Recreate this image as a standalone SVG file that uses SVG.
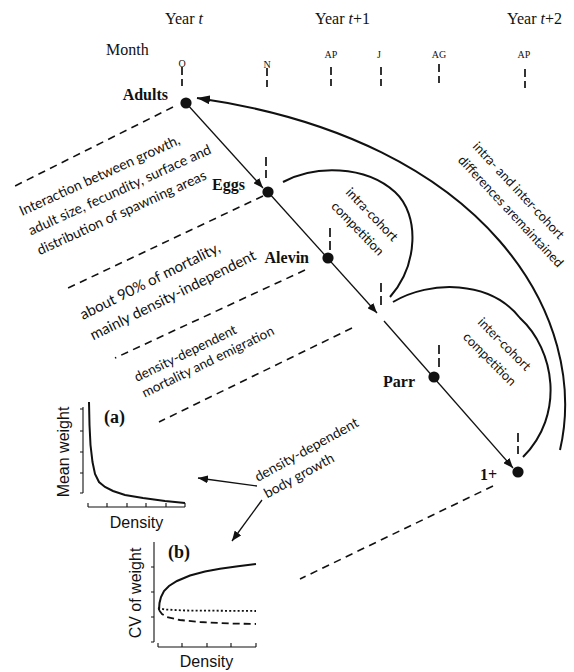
<svg xmlns="http://www.w3.org/2000/svg" width="574" height="672" viewBox="0 0 574 672">
<style>
.ser{font-family:"Liberation Serif","Times New Roman",serif;fill:#111}
.hdr{font-size:16px}
.mon{font-size:10px;text-anchor:middle}
.node{font-size:16px;font-weight:bold;text-anchor:end}
.cal{font-family:Lato,"Open Sans",sans-serif;fill:#111}
.ari{font-family:"Liberation Sans",Arial,sans-serif;fill:#111;font-size:16px}
.tick{stroke:#111;stroke-width:1.7;stroke-dasharray:8 4;fill:none}
.sep{stroke:#111;stroke-width:1.6;stroke-dasharray:7.5 5.5;fill:none}
.main{stroke:#111;stroke-width:1.3;fill:none}
.arc{stroke:#111;stroke-width:2;fill:none}
.ax{stroke:#111;stroke-width:1.1;fill:none}
.crv{stroke:#111;stroke-width:2;fill:none}
</style>
<defs>
<marker id="ah" viewBox="0 0 10 8" refX="10" refY="4" markerWidth="10" markerHeight="8" markerUnits="userSpaceOnUse" orient="auto"><path d="M0,0 L10,4 L0,8 z" fill="#111"/></marker>
<marker id="ahb" viewBox="0 0 13 9" refX="13" refY="4.5" markerWidth="13" markerHeight="9" markerUnits="userSpaceOnUse" orient="auto"><path d="M0,0 L13,4.5 L0,9 z" fill="#111"/></marker>
</defs>

<g id="header">
<text class="ser hdr" x="165" y="24">Year <tspan font-style="italic">t</tspan></text>
<text class="ser hdr" x="315" y="24">Year <tspan font-style="italic">t</tspan>+1</text>
<text class="ser hdr" x="507" y="24">Year <tspan font-style="italic">t</tspan>+2</text>
<text class="ser hdr" x="106" y="55">Month</text>
<text class="ser mon" x="182" y="67">O</text>
<text class="ser mon" x="267" y="68">N</text>
<text class="ser mon" x="331" y="58">AP</text>
<text class="ser mon" x="379" y="58">J</text>
<text class="ser mon" x="439" y="58">AG</text>
<text class="ser mon" x="524" y="58">AP</text>
</g>

<g id="connectors">
<!-- month ticks -->
<line class="tick" x1="182" y1="67" x2="182" y2="86"/>
<line class="tick" x1="267" y1="68" x2="267" y2="87"/>
<line class="tick" x1="331" y1="67" x2="331" y2="86"/>
<line class="tick" x1="381" y1="67" x2="381" y2="86"/>
<line class="tick" x1="439" y1="64" x2="439" y2="83"/>
<line class="tick" x1="525" y1="69" x2="525" y2="88"/>
<!-- node ticks -->
<line class="tick" x1="266" y1="157" x2="266" y2="178" style="stroke-dasharray:9 4"/>
<line class="tick" x1="330" y1="228" x2="330" y2="250" style="stroke-dasharray:9 4"/>
<line class="tick" x1="381" y1="283" x2="381" y2="305" style="stroke-dasharray:9 4"/>
<line class="tick" x1="439" y1="345" x2="439" y2="367" style="stroke-dasharray:9 4"/>
<line class="tick" x1="518" y1="433" x2="518" y2="454" style="stroke-dasharray:9 4"/>
<!-- separators -->
<line class="sep" x1="173" y1="107" x2="13" y2="187"/>
<line class="sep" x1="263" y1="196" x2="68" y2="288"/>
<line class="sep" x1="305" y1="270" x2="115" y2="358"/>
<line class="sep" x1="352" y1="328" x2="159" y2="422"/>
<line class="sep" x1="493" y1="486" x2="300" y2="579"/>
<!-- main life-cycle line -->
<line class="main" x1="186" y1="103" x2="263" y2="188" marker-end="url(#ah)"/>
<line class="main" x1="268" y1="192" x2="377" y2="313" marker-end="url(#ah)"/>
<line class="main" x1="384" y1="321" x2="513" y2="468" marker-end="url(#ah)"/>
<!-- arcs -->
<path class="arc" d="M283,182 C315,165 365,165 395,192 C420,215 418,265 390,297"/>
<path class="arc" d="M393,302 C430,280 490,280 520,318 C555,350 565,415 523,457"/>
<path class="arc" d="M560,450 C590,320 490,140 197,98" marker-end="url(#ahb)"/>
<!-- density-dependent body growth arrows -->
<line class="main" x1="257" y1="486" x2="198" y2="478" marker-end="url(#ah)"/>
<line class="main" x1="262" y1="500" x2="232" y2="541" marker-end="url(#ah)"/>
</g>

<g id="node-adults"><circle cx="186" cy="103" r="5.6" fill="#111"/><text class="ser node" x="168" y="100">Adults</text></g>
<g id="node-eggs"><circle cx="268" cy="192" r="5.6" fill="#111"/><text class="ser node" x="245" y="190">Eggs</text></g>
<g id="node-alevin"><circle cx="328" cy="258" r="5.6" fill="#111"/><text class="ser node" x="309" y="263">Alevin</text></g>
<g id="node-parr"><circle cx="434" cy="377" r="5.6" fill="#111"/><text class="ser node" x="415" y="387">Parr</text></g>
<g id="node-1plus"><circle cx="518" cy="472" r="5.6" fill="#111"/><text class="ser node" x="497" y="480">1+</text></g>

<g id="labels">
<g transform="translate(22,216) rotate(-24.5)" class="cal" font-size="14">
<text x="0" y="0">Interaction between growth,</text>
<text x="0" y="21.5">adult size, fecundity, surface and</text>
<text x="0" y="43">distribution of spawning areas</text>
</g>
<g transform="translate(83,320) rotate(-26.5)" class="cal" font-size="15">
<text x="0" y="0">about 90% of mortality,</text>
<text x="0" y="23">mainly density-independent</text>
</g>
<g transform="translate(137,382) rotate(-26)" class="cal" font-size="13.5">
<text x="0" y="0">density-dependent</text>
<text x="0" y="17.5">mortality and emigration</text>
</g>
<g transform="translate(345,193) rotate(46)" class="cal" font-size="13">
<text x="0" y="0">intra-cohort</text>
<text x="0" y="20">competition</text>
</g>
<g transform="translate(472,147) rotate(47)" class="cal" font-size="13">
<text x="0" y="0">intra- and inter-cohort</text>
<text x="0" y="20">differences aremaintained</text>
</g>
<g transform="translate(477,323) rotate(45)" class="cal" font-size="13">
<text x="0" y="0">inter-cohort</text>
<text x="0" y="21">competition</text>
</g>
<g transform="translate(258,482) rotate(-29)" class="cal" font-size="14">
<text x="0" y="0">density-dependent</text>
<text x="0" y="19">body growth</text>
</g>
</g>

<g id="panel-a">
<line class="ax" x1="83" y1="407" x2="83" y2="493"/>
<path class="ax" d="M80,409H83M80,431H83M80,452H83M80,473H83M80,493H83"/>
<line class="ax" x1="88" y1="507" x2="185" y2="507"/>
<path class="ax" d="M88,503V507M107,503V507M127,503V507M146,503V507M166,503V507M185,503V507"/>
<polyline class="crv" points="89,402 89.5,425 90.5,445 92.5,462 95,474 99,482 105,487 113,491 125,495 143,498 165,501 185,503"/>
<text class="ser" x="104" y="423" font-size="18" font-weight="bold">(a)</text>
<text class="ari" transform="translate(69,452) rotate(-90)" text-anchor="middle">Mean weight</text>
<text class="ari" x="136.5" y="528" text-anchor="middle">Density</text>
</g>

<g id="panel-b">
<line class="ax" x1="154" y1="542" x2="154" y2="642"/>
<path class="ax" d="M151,567H154M151,592H154M151,617H154M151,642H154"/>
<line class="ax" x1="158" y1="647" x2="256" y2="647"/>
<path class="ax" d="M158,643V647M182,643V647M207,643V647M231,643V647M256,643V647"/>
<polyline class="crv" points="159,610 159.5,603 161,597 164,591 169,586 177,581 190,575.5 205,571.5 220,568.7 238,566.2 256,564"/>
<polyline class="crv" style="stroke-width:1.8;stroke-dasharray:2 2.2" points="158,608 165,609.5 185,610.5 256,611"/>
<polyline class="crv" style="stroke-width:1.8;stroke-dasharray:7 4" points="159,610 162,614 167,617 180,620 200,622 230,623.5 256,624"/>
<text class="ser" x="168" y="558" font-size="18" font-weight="bold">(b)</text>
<text class="ari" transform="translate(141,593) rotate(-90)" text-anchor="middle">CV of weight</text>
<text class="ari" x="206.5" y="667" text-anchor="middle">Density</text>
</g>
</svg>
